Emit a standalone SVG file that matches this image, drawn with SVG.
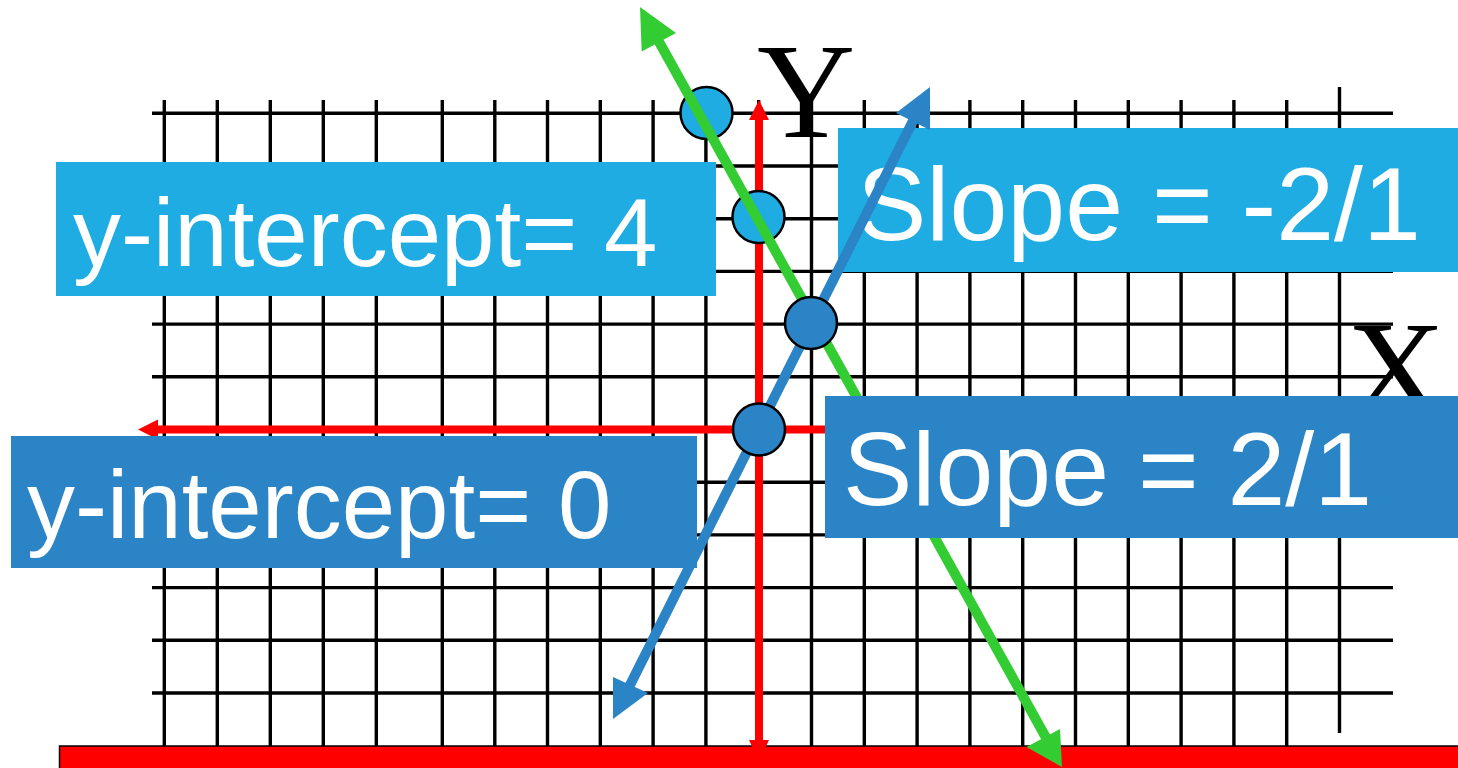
<svg xmlns="http://www.w3.org/2000/svg" width="1458" height="768" viewBox="0 0 1458 768">
<style>
.g{stroke:#000;stroke-width:3.4;fill:none}
.lb{fill:#1FACE3}
.db{fill:#2A84C6}
.t{font-family:"Liberation Sans",Arial,sans-serif;fill:#fff}
.s{font-family:"Liberation Serif","Times New Roman",serif;fill:#000}
.red{stroke:#FF0000;stroke-width:8;fill:none}
</style>
<rect width="1458" height="768" fill="#fff"/>
<g id="grid" class="g">
<path d="M164.3 100V746M217.3 100V746M270.3 100V746M323.3 100V746M376.3 100V746M442.3 100V746M494.8 100V746M547.5 100V746M600.3 100V746M653.1 100V746M705.9 100V746M758.7 100V746M811.5 100V746M864.3 100V746M917.1 100V746M969.9 100V746M1022.7 100V746M1075.5 100V746M1128.3 100V746M1181.1 100V746M1233.9 100V746M1286.7 100V746M1339.5 87V733"/>
<path d="M152 113.3H1393M152 166H1393M152 218.7H1393M152 271.4H1393M152 324.1H1393M152 376.8H1393M152 429.5H1393M152 482.2H1393M152 534.9H1393M152 587.6H1393M152 640.3H1393M152 693H1393"/>
</g>
<g id="bottom-bar"><rect x="59.5" y="746" width="1400" height="24" fill="#FF0000" stroke="#000" stroke-width="1.5"/></g>
<g id="axes">
<path class="red" d="M759 118V742"/>
<path d="M759 100L769 120H749Z" fill="#FF0000"/>
<path d="M759 761L769 740H749Z" fill="#FF0000"/>
<path class="red" d="M156 429.5H1380"/>
<path d="M138 429.5L158 419.5V439.5Z" fill="#FF0000"/>
</g>
<g id="label-Y"><text class="s" x="757" y="137" font-size="136">Y</text></g>
<g id="label-X"><text class="s" x="1347" y="415" font-size="136">X</text></g>
<g id="points-light">
<circle cx="706.5" cy="113" r="26" class="lb" stroke="#000" stroke-width="2.5"/>
<circle cx="758.5" cy="217" r="26" class="lb" stroke="#000" stroke-width="2.5"/>
</g>
<g id="box-yint4"><rect x="56" y="162" width="660" height="134" class="lb"/><text class="t" x="73" y="266" font-size="96">y-intercept= 4</text></g>
<g id="box-slope-neg"><rect x="838" y="128" width="620" height="144" class="lb"/><text class="t" x="857" y="240" font-size="104">Slope = -2/1</text></g>
<g id="box-yint0"><rect x="11" y="436" width="686" height="132" class="db"/><text class="t" x="27" y="538" font-size="96">y-intercept= 0</text></g>
<g id="connectors">
<path d="M648 22L1054 752" stroke="#33CC33" stroke-width="10" fill="none"/>
<path d="M640 7L676 33L641.7 51.5Z" fill="#33CC33"/>
<path d="M1062 767L1060 729L1026.5 747Z" fill="#33CC33"/>
</g>
<g id="box-slope-pos"><rect x="825" y="396" width="633" height="142" class="db"/><text class="t" x="843" y="505" font-size="104">Slope = 2/1</text></g>
<g id="blue-line">
<path d="M921 105L622 701" stroke="#2A84C6" stroke-width="10" fill="none"/>
<path d="M930 87L930 130L896 113Z" fill="#2A84C6"/>
<path d="M613 719L613 677L648 693Z" fill="#2A84C6"/>
</g>
<g id="points-dark">
<circle cx="811" cy="323" r="26" class="db" stroke="#000" stroke-width="2.5"/>
<circle cx="759" cy="429.5" r="26" class="db" stroke="#000" stroke-width="2.5"/>
</g>
</svg>
